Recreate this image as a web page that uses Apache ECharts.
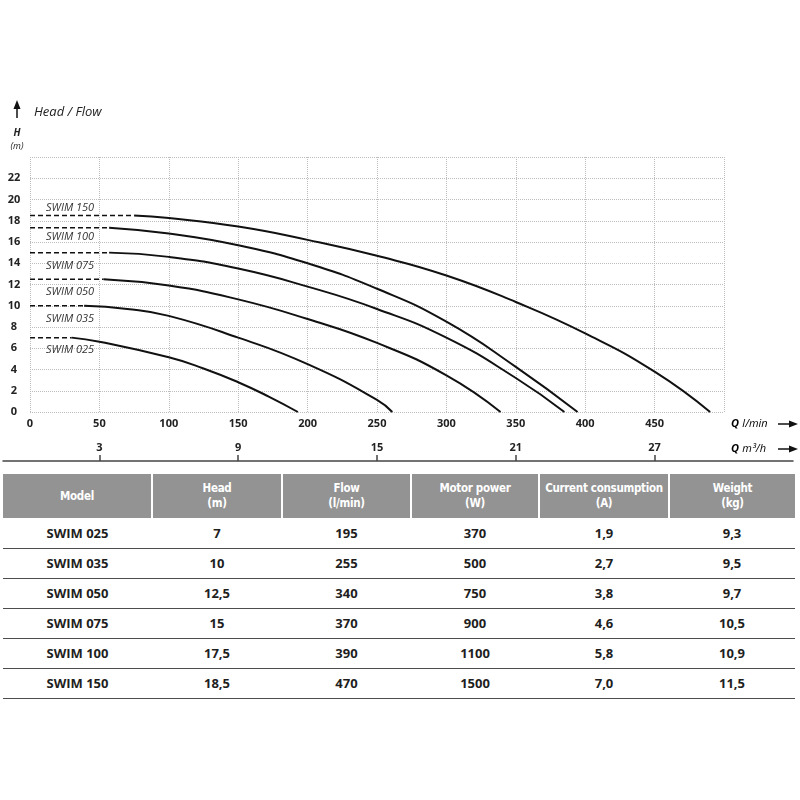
<!DOCTYPE html>
<html lang="en">
<head>
    <meta charset="UTF-8">
    <title>SWIM pumps - Head / Flow</title>
    <script src="https://cdn.jsdelivr.net/npm/echarts/dist/echarts.min.js"></script>
    <style>
        body {
            margin: 0;
            background: #fff;
            font-family: "Open Sans", sans-serif;
        }
        #chart {
            position: absolute;
            left: 0;
            top: 0;
            width: 800px;
            height: 470px;
        }
        #specs {
            position: absolute;
            left: 3px;
            top: 474px;
            width: 792px;
            border-collapse: collapse;
            table-layout: fixed;
        }
        #specs th {
            background: #939393;
            color: #fff;
            font-family: "Liberation Sans Narrow", "DejaVu Sans Condensed", sans-serif;
            font-stretch: condensed;
            font-weight: bold;
            font-size: 11.5px;
            line-height: 15px;
            letter-spacing: -0.3px;
            white-space: nowrap;
            height: 44px;
            padding: 0;
            border-left: 2px solid #fff;
        }
        #specs th:first-child {
            border-left: none;
        }
        #specs tbody tr {
            height: 30px;
        }
        #specs td {
            padding: 0;
            text-align: center;
            font-weight: 700;
            font-size: 13px;
            color: #1e1e1e;
            border-bottom: 1.5px solid #4d4d4d;
        }
    </style>
</head>
<body>
    <div id="chart"></div>
    <table id="specs">
        <colgroup>
            <col style="width:149px"><col style="width:130px"><col style="width:129px">
            <col style="width:128px"><col style="width:130px"><col style="width:126px">
        </colgroup>
        <thead><tr id="specs-head"></tr></thead>
        <tbody id="specs-body"></tbody>
    </table>

    <script>
        // table data
        const models = ['SWIM 025', 'SWIM 035', 'SWIM 050', 'SWIM 075', 'SWIM 100', 'SWIM 150'];
        const heads = ['7', '10', '12,5', '15', '17,5', '18,5'];
        const flows = ['195', '255', '340', '370', '390', '470'];
        const powers = ['370', '500', '750', '900', '1100', '1500'];
        const currents = ['1,9', '2,7', '3,8', '4,6', '5,8', '7,0'];
        const weights = ['9,3', '9,5', '9,7', '10,5', '10,9', '11,5'];
        const columnTitles = ['Model', 'Head', 'Flow', 'Motor power', 'Current consumption', 'Weight'];
        const columnUnits = ['', '(m)', '(l/min)', '(W)', '(A)', '(kg)'];

        // curves: [Q l/min, H m]
        const curve025 = [[30, 7.0], [50, 6.62], [100, 5.15], [125, 4.1], [150, 2.8], [172, 1.45], [193, 0]];
        const curve035 = [[39, 10.0], [70, 9.7], [100, 9.05], [150, 7.0], [200, 4.5], [250, 1.15], [261, 0]];
        const curve050 = [[53, 12.5], [100, 11.9], [150, 10.6], [200, 8.75], [250, 6.5], [300, 3.45], [339, 0]];
        const curve075 = [[57, 15.0], [100, 14.6], [150, 13.5], [200, 11.8], [250, 9.7], [300, 7.0], [350, 3.2], [385, 0]];
        const curve100 = [[57, 17.35], [100, 16.8], [150, 15.7], [200, 14.0], [250, 11.6], [300, 8.5], [350, 4.25], [394.5, 0]];
        const curve150 = [[75, 18.5], [100, 18.25], [150, 17.45], [200, 16.2], [250, 14.7], [300, 12.85], [350, 10.35], [400, 7.4], [450, 3.8], [490, 0]];
        const curves = [curve025, curve035, curve050, curve075, curve100, curve150];

        // axis ranges / ticks
        const flowMax = 500;
        const flowStep = 50;
        const headMax = 24;
        const headStep = 2;
        const m3hTicks = [3, 9, 15, 21, 27];

        // build table
        document.getElementById('specs-head').innerHTML = columnTitles.map((t, i) =>
            `<th>${t}${columnUnits[i] ? '<br>' + columnUnits[i] : ''}</th>`).join('');
        document.getElementById('specs-body').innerHTML = models.map((m, i) => `
            <tr>
                <td>${m}</td><td>${heads[i]}</td><td>${flows[i]}</td>
                <td>${powers[i]}</td><td>${currents[i]}</td><td>${weights[i]}</td>
            </tr>`).join('');

        // layout of the plot
        const plotLeft = 30, plotRight = 724, lineLeft = 3, lineRight = 793;
        const m3hMax = flowMax * 60 / 1000;
        const pxPerM3h = (plotRight - plotLeft) / m3hMax;
        const labelDy = [12, 13, 13, 13, 9, -8];

        const series = [];
        curves.forEach((pts, i) => {
            series.push({
                name: models[i],
                type: 'line',
                data: pts,
                smooth: 0.5,
                showSymbol: false,
                silent: true,
                lineStyle: { color: '#111', width: 2 },
                z: 3
            });
            series.push({
                name: models[i] + ' start',
                type: 'line',
                data: [[0, pts[0][1]], pts[0]],
                showSymbol: false,
                silent: true,
                lineStyle: { color: '#111', width: 1.5, type: [5, 3] },
                markPoint: {
                    symbol: 'circle',
                    symbolSize: 0,
                    silent: true,
                    data: [{ coord: [0, pts[0][1]] }],
                    label: {
                        show: true,
                        position: 'right',
                        distance: 0,
                        offset: [16, labelDy[i]],
                        formatter: models[i],
                        fontFamily: 'Open Sans',
                        fontStyle: 'italic',
                        fontSize: 11,
                        color: '#333'
                    }
                }
            });
        });

        const axisFont = { fontFamily: 'Open Sans', fontWeight: 'bold', fontSize: 11, color: '#222' };

        const option = {
            animation: false,
            grid: [
                { left: plotLeft, right: 800 - plotRight, top: 157, bottom: 58 },
                { left: lineLeft, right: 800 - lineRight, top: 440, bottom: 9 }
            ],
            xAxis: [{
                type: 'value',
                gridIndex: 0,
                min: 0,
                max: flowMax,
                interval: flowStep,
                axisLine: { show: false },
                axisTick: { show: false },
                axisLabel: Object.assign({ margin: 6, formatter: v => v === flowMax ? '' : v }, axisFont),
                splitLine: { show: true, lineStyle: { color: '#bdbdbd', type: 'dotted', width: 1 } }
            }, {
                type: 'value',
                gridIndex: 1,
                min: -(plotLeft - lineLeft) / pxPerM3h,
                max: m3hMax + (lineRight - plotRight) / pxPerM3h,
                axisLine: { show: true, lineStyle: { color: '#444', width: 1.5 } },
                axisTick: { show: true, inside: true, length: 6, customValues: m3hTicks, lineStyle: { color: '#444', width: 1.5 } },
                axisLabel: Object.assign({ inside: true, margin: 8, customValues: m3hTicks }, axisFont),
                splitLine: { show: false }
            }],
            yAxis: [{
                type: 'value',
                gridIndex: 0,
                min: 0,
                max: headMax,
                interval: headStep,
                axisLine: { show: false },
                axisTick: { show: false },
                axisLabel: Object.assign({ margin: 16, align: 'center', formatter: v => v === headMax ? '' : v }, axisFont),
                splitLine: { show: true, lineStyle: { color: '#bdbdbd', type: 'dotted', width: 1 } }
            }, {
                type: 'value',
                gridIndex: 1,
                show: false
            }],
            graphic: [
                // up arrow + titles
                { type: 'line', shape: { x1: 17, y1: 118, x2: 17, y2: 106 }, style: { stroke: '#111', lineWidth: 1.5 } },
                { type: 'polygon', shape: { points: [[17, 100], [13.5, 109], [20.5, 109]] }, style: { fill: '#111' } },
                { type: 'text', x: 34, y: 112, style: { text: 'Head / Flow', fontFamily: 'Open Sans', fontStyle: 'italic', fontSize: 13, fill: '#222', verticalAlign: 'middle' } },
                { type: 'text', x: 17, y: 133, style: { text: 'H', fontFamily: 'Open Sans', fontStyle: 'italic', fontWeight: 'bold', fontSize: 10, fill: '#222', align: 'center', verticalAlign: 'middle' } },
                { type: 'text', x: 17, y: 146, style: { text: '(m)', fontFamily: 'Open Sans', fontStyle: 'italic', fontSize: 9, fill: '#222', align: 'center', verticalAlign: 'middle' } },
                // x axis names
                { type: 'text', x: 731, y: 424, style: {
                    text: '{q|Q} {u|l/min}', verticalAlign: 'middle',
                    rich: { q: { fontFamily: 'Open Sans', fontStyle: 'italic', fontWeight: 'bold', fontSize: 11, color: '#222' },
                            u: { fontFamily: 'Open Sans', fontStyle: 'italic', fontSize: 11, color: '#222' } } } },
                { type: 'text', x: 731, y: 449, style: {
                    text: '{q|Q} {u|m³/h}', verticalAlign: 'middle',
                    rich: { q: { fontFamily: 'Open Sans', fontStyle: 'italic', fontWeight: 'bold', fontSize: 11, color: '#222' },
                            u: { fontFamily: 'Open Sans', fontStyle: 'italic', fontSize: 11, color: '#222' } } } },
                { type: 'line', shape: { x1: 778, y1: 424, x2: 791, y2: 424 }, style: { stroke: '#111', lineWidth: 1.5 } },
                { type: 'polygon', shape: { points: [[798, 424], [789, 420.5], [789, 427.5]] }, style: { fill: '#111' } },
                { type: 'line', shape: { x1: 778, y1: 449, x2: 791, y2: 449 }, style: { stroke: '#111', lineWidth: 1.5 } },
                { type: 'polygon', shape: { points: [[798, 449], [789, 445.5], [789, 452.5]] }, style: { fill: '#111' } }
            ],
            series: series
        };

        const myChart = echarts.init(document.getElementById('chart'));
        myChart.setOption(option);
    </script>
</body>
</html>
